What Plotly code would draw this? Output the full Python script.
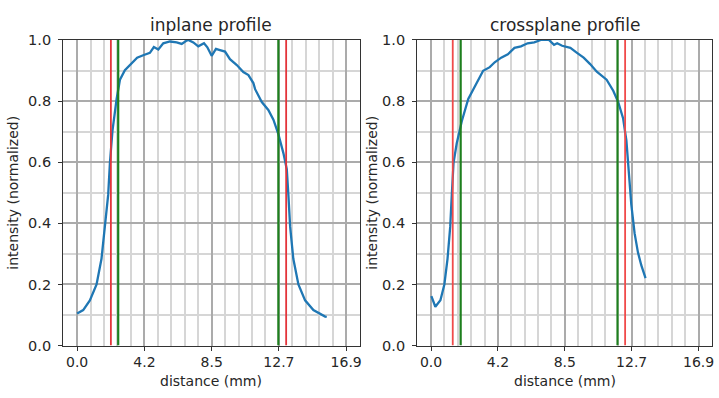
import plotly.graph_objects as go

# ---- data ----
in_x = [0.0, 0.38, 0.8, 1.22, 1.53, 1.74, 1.95, 2.06, 2.22, 2.48, 2.69, 3.0, 3.31, 3.77, 4.15,
        4.57, 4.82, 5.1, 5.41, 5.83, 6.25, 6.57, 6.88, 6.98, 7.3, 7.61, 7.97, 8.18, 8.45,
        8.72, 8.97, 9.29, 9.6, 10.03, 10.44, 10.76, 11.07, 11.18, 11.6, 12.01, 12.33,
        12.64, 12.96, 13.17, 13.27, 13.38, 13.58, 13.9, 14.32, 14.84, 15.58, 15.68]
in_y = [0.105, 0.116, 0.148, 0.2, 0.284, 0.389, 0.493, 0.598, 0.703, 0.807, 0.87, 0.901,
        0.917, 0.942, 0.95, 0.958, 0.977, 0.969, 0.989, 0.995, 0.992, 0.987, 0.998, 1.0,
        0.992, 0.979, 0.989, 0.976, 0.948, 0.971, 0.967, 0.962, 0.937, 0.918, 0.895,
        0.885, 0.859, 0.839, 0.797, 0.771, 0.739, 0.692, 0.629, 0.577, 0.493, 0.389,
        0.284, 0.2, 0.148, 0.116, 0.095, 0.094]

cr_x = [0.02, 0.27, 0.59, 0.84, 1.04, 1.21, 1.31, 1.42, 1.62, 1.94, 2.35, 2.87, 3.29, 3.71,
        4.02, 4.43, 4.85, 5.27, 5.68, 6.1, 6.52, 6.93, 7.45, 7.77, 7.97, 8.28, 8.8, 9.22,
        9.64, 10.05, 10.47, 11.09, 11.51, 11.82, 12.13, 12.34, 12.48, 12.65, 12.86, 13.07,
        13.28, 13.55]
cr_y = [0.162, 0.127, 0.148, 0.2, 0.284, 0.389, 0.493, 0.598, 0.661, 0.734, 0.807, 0.86,
        0.899, 0.911, 0.927, 0.942, 0.953, 0.974, 0.979, 0.989, 0.992, 1.0, 1.0, 0.984,
        0.989, 0.981, 0.974, 0.958, 0.942, 0.921, 0.896, 0.87, 0.834, 0.797, 0.744,
        0.671, 0.577, 0.462, 0.367, 0.305, 0.263, 0.221]

in_red = [2.12, 13.13]
in_green = [2.58, 12.64]
cr_red = [1.37, 12.26]
cr_green = [1.87, 11.78]

x_tickvals = [0.0, 4.225, 8.45, 12.675, 16.9]
x_ticktext = ["0.0", "4.2", "8.5", "12.7", "16.9"]
titles = ["inplane profile", "crossplane profile"]
x_title = "distance (mm)"
y_title = "intensity (normalized)"

W, H = 719, 398
FONT = "DejaVu Sans"
TXT = "#262626"

fig = go.Figure()

panels = [
    (in_x, in_y, in_red, in_green, "x", "y", "#e3343a"),
    (cr_x, cr_y, cr_red, cr_green, "x2", "y2", "#f04a4a"),
]
for px, py, reds, greens, xa, ya, rc in panels:
    fig.add_trace(go.Scatter(x=px, y=py, mode="lines", xaxis=xa, yaxis=ya,
                             line=dict(color="#1f77b4", width=2.3), showlegend=False))
    for v in reds:
        fig.add_trace(go.Scatter(x=[v, v], y=[0, 1], mode="lines", xaxis=xa, yaxis=ya,
                                 line=dict(color=rc, width=1.8), showlegend=False))
    for v in greens:
        fig.add_trace(go.Scatter(x=[v, v], y=[0, 1], mode="lines", xaxis=xa, yaxis=ya,
                                 line=dict(color="#1e7f1e", width=2.2), showlegend=False))

dom_y = [(H - 351.7) / H, (H - 33.3) / H]
dom_x1 = [63.3 / W, 360.7 / W]
dom_x2 = [418.3 / W, 714.0 / W]

def xaxis(dom, anchor):
    return dict(domain=dom, anchor=anchor, range=[-0.88, 17.75],
                tickmode="array", tickvals=x_tickvals, ticktext=x_ticktext,
                ticks="outside", ticklen=4, tickcolor="#333", tickwidth=1,
                showgrid=True, gridcolor="#ababab", gridwidth=1.5,
                minor=dict(tickmode="linear", tick0=0, dtick=0.845, showgrid=True,
                           gridcolor="#d6d6d6", gridwidth=1.5, ticks=""),
                showline=True, linecolor="#333", linewidth=1.2, mirror=True,
                zeroline=False, ticklabelstandoff=0,
                tickfont=dict(family=FONT, size=14, color=TXT))

def yaxis(dom, anchor):
    return dict(domain=dom, anchor=anchor, range=[0, 1], dtick=0.2, tick0=0,
                tickformat=".1f", ticks="outside", ticklen=4, tickcolor="#333",
                showgrid=True, gridcolor="#ababab", gridwidth=1.5,
                minor=dict(dtick=0.1, showgrid=True, gridcolor="#d6d6d6", gridwidth=1.5, ticks=""),
                showline=True, linecolor="#333", linewidth=1.2, mirror=True,
                zeroline=False, ticklabelstandoff=4,
                tickfont=dict(family=FONT, size=14.5, color=TXT))

fig.update_layout(
    width=W, height=H, margin=dict(l=0, r=0, t=0, b=0),
    paper_bgcolor="white", plot_bgcolor="white",
    xaxis=xaxis(dom_x1, "y"), yaxis=yaxis(dom_y, "x"),
    xaxis2=xaxis(dom_x2, "y2"), yaxis2=yaxis(dom_y, "x2"),
)

ann = []
for i, dom in enumerate([dom_x1, dom_x2]):
    cx = (dom[0] + dom[1]) / 2
    ann.append(dict(text=titles[i], x=cx, y=1 - 18 / H, xref="paper", yref="paper",
                    showarrow=False, xanchor="center", yanchor="middle",
                    font=dict(family=FONT, size=17, color=TXT)))
    ann.append(dict(text=x_title, x=cx, y=0, xref="paper", yref="paper",
                    showarrow=False, xanchor="center", yanchor="bottom", borderpad=0,
                    font=dict(family=FONT, size=14, color=TXT)))
    yx = 13 if i == 0 else 373
    ann.append(dict(text=y_title, x=yx / W, y=(dom_y[0] + dom_y[1]) / 2, xref="paper",
                    yref="paper", showarrow=False, xanchor="center", yanchor="middle",
                    textangle=-90, font=dict(family=FONT, size=14, color=TXT)))
fig.update_layout(annotations=ann)

fig.write_html("out.html")
